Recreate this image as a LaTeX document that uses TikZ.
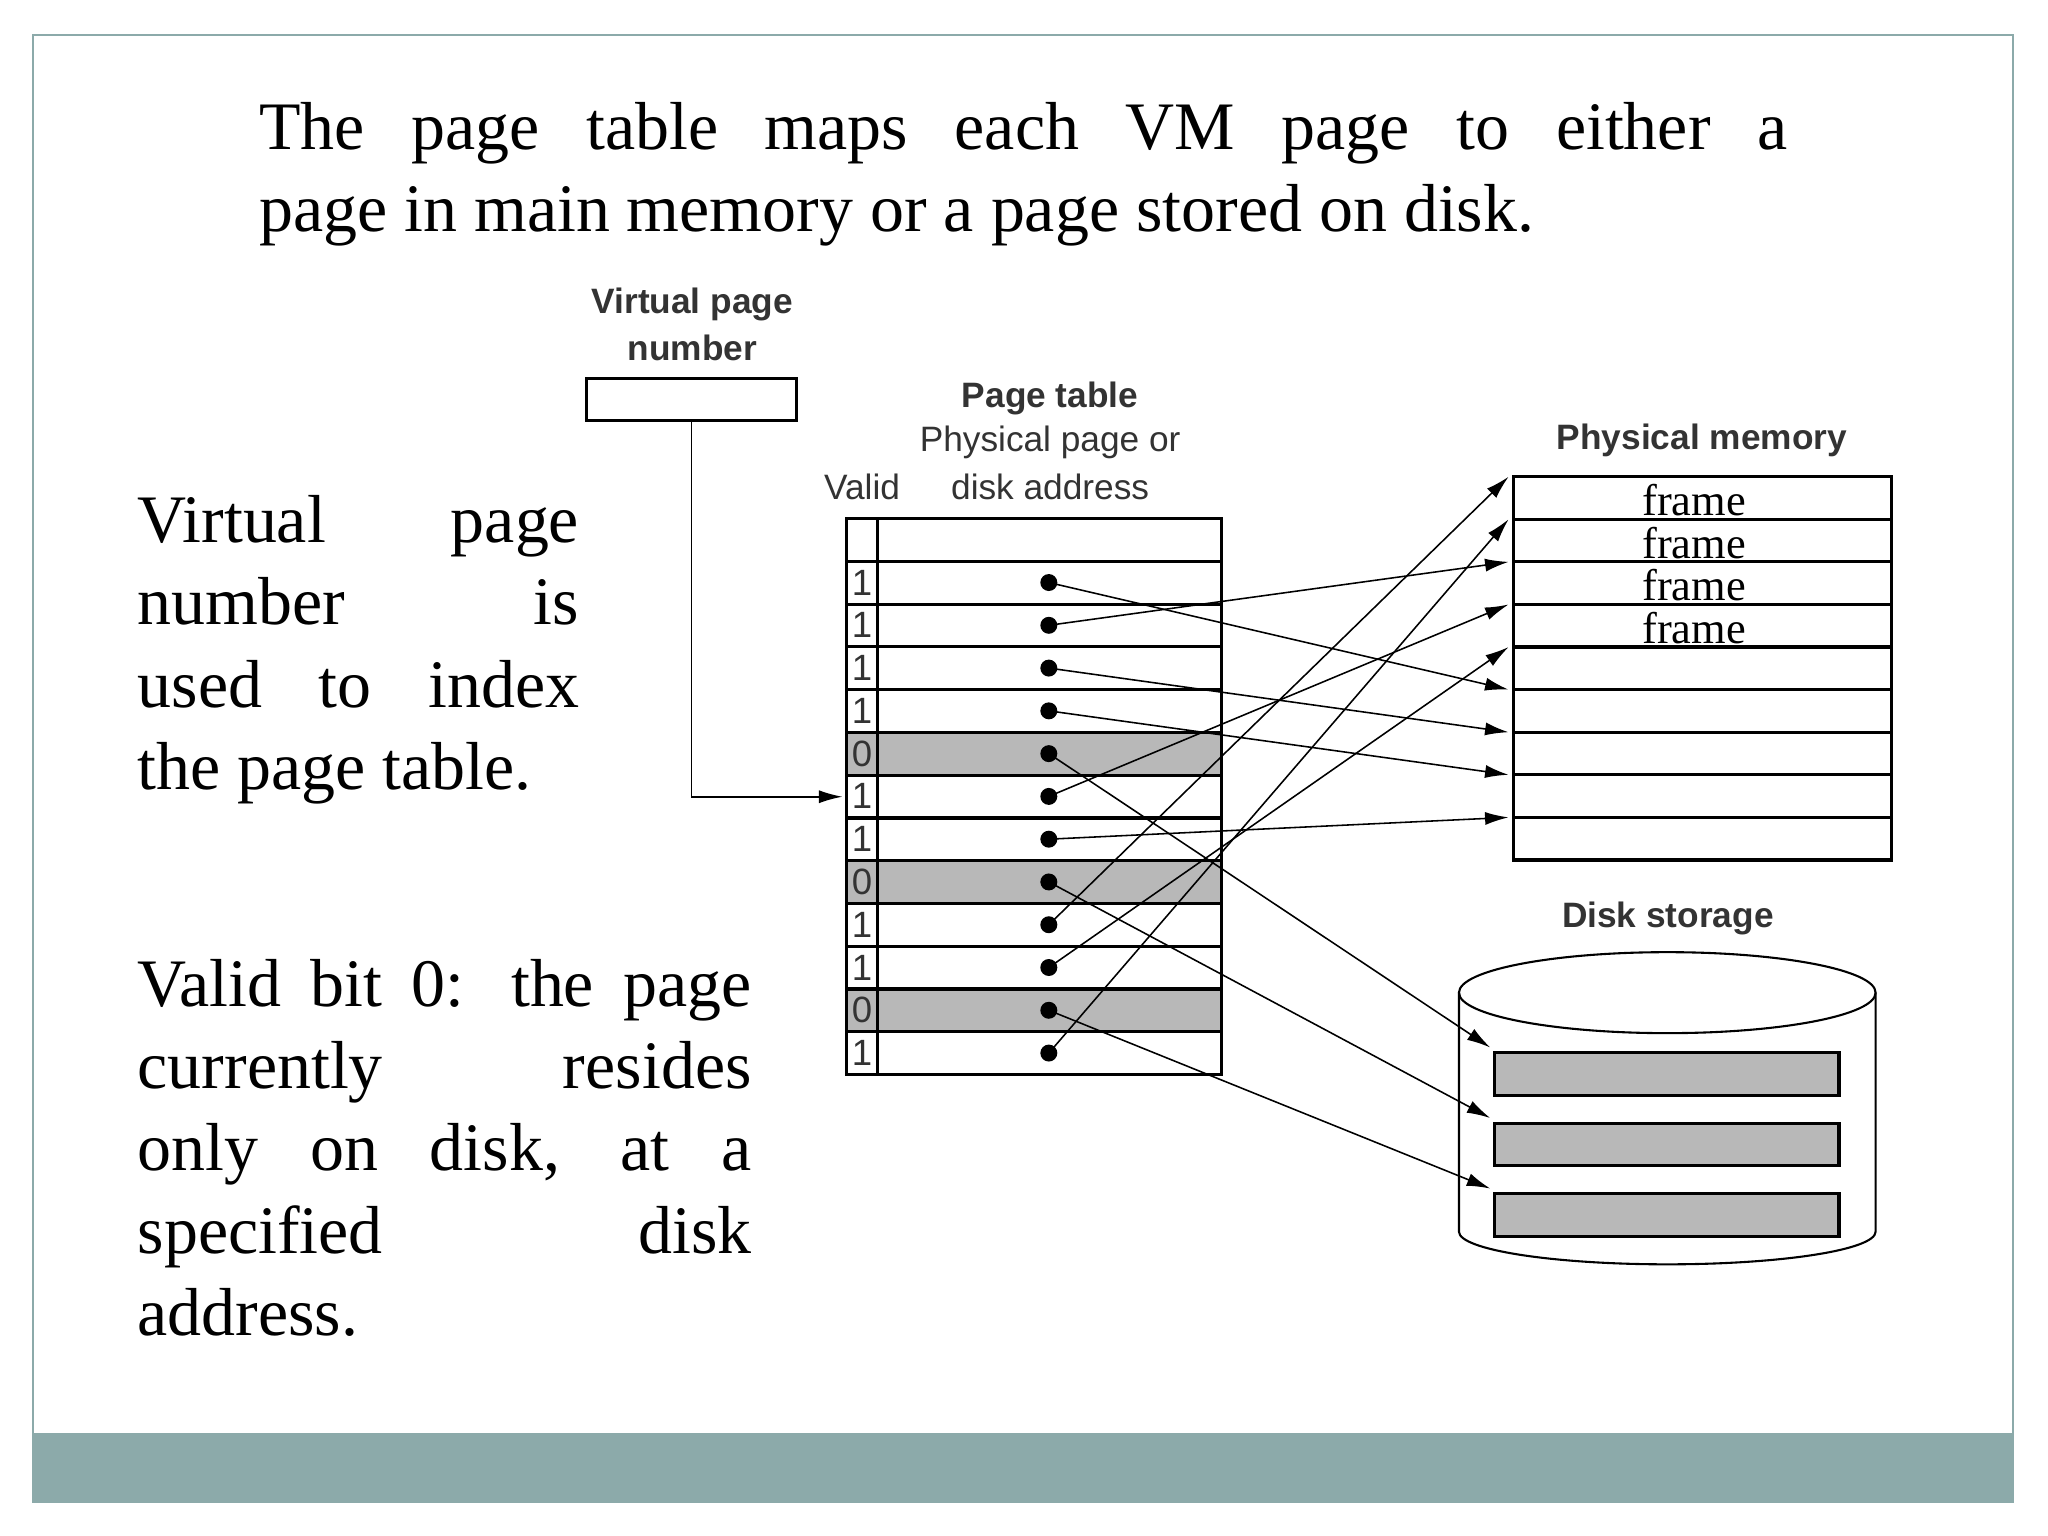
\documentclass[tikz,border=0pt]{standalone}
\usepackage{fontspec}
\setmainfont{Liberation Serif}
\newfontfamily\sansf{Liberation Sans}
\usetikzlibrary{arrows.meta}
\begin{document}
\begin{tikzpicture}[x=0.5pt,y=-0.5pt,
  lbl/.style={font=\sansf\fontsize{13.5}{15}\selectfont,text=black!80,inner sep=0},
  blbl/.style={lbl,font=\sansf\bfseries\fontsize{13.5}{15}\selectfont},
  body/.style={font=\fontsize{26}{31.5}\selectfont,align=justify,inner sep=0,anchor=north west},
  cell/.style={draw=black,line width=1.2pt},
  dot/.style={circle,fill=black,inner sep=0,minimum size=6.5pt},
  arr/.style={-{Latex[length=9pt,width=5pt]},line width=0.6pt}]
\useasboundingbox (0,0) rectangle (1568,1176);
\fill[white] (0,0) rectangle (1568,1176);
\draw[color={rgb,255:red,140;green,170;blue,170},line width=0.8pt] (25,27) rectangle (1541,1150);
\fill[color={rgb,255:red,140;green,170;blue,170}] (25,1097) rectangle (1541,1150);
% title
\node[body,text width=585pt] (title) at (198,78) {The page table maps each VM page to either a\linebreak page in main memory or a page stored on disk.};
\node[body,text width=169pt] (t1) at (105,379) {Virtual page\linebreak number is\linebreak used to index\linebreak the page table.};
\node[body,text width=235pt] (t2) at (105,734) {Valid bit 0: the page\linebreak currently resides\linebreak only on disk, at a\linebreak specified disk\linebreak address.};
% page table
\foreach \i in {5,8,11} \fill[black!28] (648,{430+(\i-1)*32.75}) rectangle (935,{430+\i*32.75});
\foreach \i in {0,...,12} \draw[cell] (648,{397+\i*32.75}) rectangle (935,{397+(\i+1)*32.75});
\draw[cell] (672,397) -- (672,823);
\foreach \i/\v in {1/1,2/1,3/1,4/1,5/0,6/1,7/1,8/0,9/1,10/1,11/0,12/1}{
  \node[lbl,font=\sansf\fontsize{14}{15}\selectfont] (v\i) at (660,{446+(\i-1)*32.75}) {\v};
  \node[dot] (d\i) at (803,{446+(\i-1)*32.75}) {};}
\node[blbl] (pt) at (804,305) {Page table};
\node[lbl] (pp) at (804,339) {Physical page or};
\node[lbl] (da) at (804,373) {disk address};
\node[lbl] (va) at (660,373) {Valid};
% VPN
\node[blbl] (vpn1) at (530,233) {Virtual page};
\node[blbl] (vpn2) at (530,266) {number};
\node[cell,draw,minimum width=80.5pt,minimum height=16pt,inner sep=0] (vpn) at (529.5,306) {};
\coordinate (vin) at (645,610);
\draw[arr] (vpn.south) |- (vin);
% physical memory
\node[blbl] (pml) at (1303,337) {Physical memory};
\foreach \i in {0,...,8} \draw[cell] (1159,{365+\i*32.6}) rectangle (1448,{365+(\i+1)*32.6});
\foreach \i in {0,...,9} \coordinate (p\i) at (1155,{365+\i*32.6});
\foreach \i in {1,...,4} \node[font=\fontsize{17}{17}\selectfont,inner sep=0] (f\i) at (1297,{383+(\i-1)*32.6}) {frame};
% disk
\node[blbl] (dsl) at (1277,703) {Disk storage};
\draw[line width=0.8pt] (1117,760) -- (1117,943) arc[start angle=180,end angle=0,x radius=159.5,y radius=25] -- (1436,760);
\draw[line width=0.8pt] (1276.5,760) ellipse[x radius=159.5,y radius=31];
\foreach \i/\y in {1/806,2/860,3/914}{
  \fill[black!28] (1144,\y) rectangle (1408,\y+32.5);
  \draw[cell] (1144,\y) rectangle (1408,\y+32.5);
  \coordinate (k\i) at (1141,\y-4);}
% mappings
\draw[arr] (d1.center) -- (p5);
\draw[arr] (d2.center) -- (p2);
\draw[arr] (d3.center) -- (p6);
\draw[arr] (d4.center) -- (p7);
\draw[arr] (d5.center) -- (k1);
\draw[arr] (d6.center) -- (p3);
\draw[arr] (d7.center) -- (p8);
\draw[arr] (d8.center) -- (k2);
\draw[arr] (d9.center) -- (p0);
\draw[arr] (d10.center) -- (p4);
\draw[arr] (d11.center) -- (k3);
\draw[arr] (d12.center) -- (p1);
\end{tikzpicture}
\end{document}
